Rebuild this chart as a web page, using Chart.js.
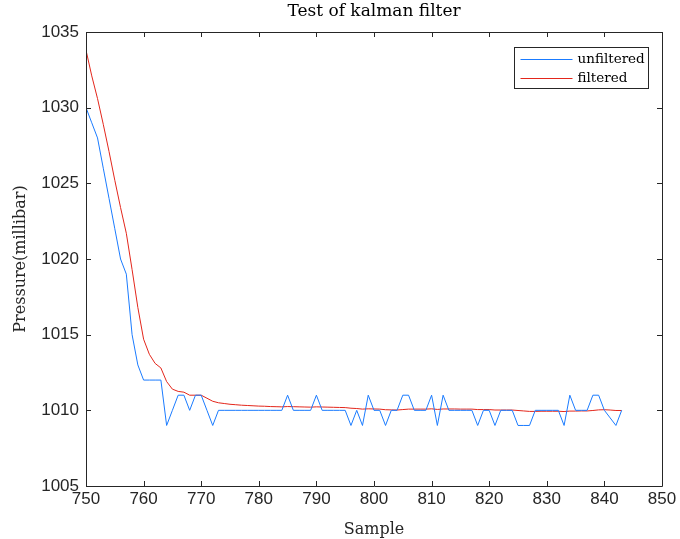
<!DOCTYPE html>
<html>
<head>
<meta charset="utf-8">
<title>Test of kalman filter</title>
<script src="https://cdn.jsdelivr.net/npm/chart.js@4/dist/chart.umd.min.js"></script>
<style>
  html, body { margin: 0; padding: 0; background: #fff; }
  #wrap { width: 680px; height: 539px; }
</style>
</head>
<body>
<div id="wrap"><canvas id="myChart" width="680" height="539"></canvas></div>
<script>
var samples = [
  750, 751, 752, 753, 754, 755, 756, 757, 758, 759,
  760, 761, 762, 763, 764, 765, 766, 767, 768, 769,
  770, 771, 772, 773, 774, 775, 776, 777, 778, 779,
  780, 781, 782, 783, 784, 785, 786, 787, 788, 789,
  790, 791, 792, 793, 794, 795, 796, 797, 798, 799,
  800, 801, 802, 803, 804, 805, 806, 807, 808, 809,
  810, 811, 812, 813, 814, 815, 816, 817, 818, 819,
  820, 821, 822, 823, 824, 825, 826, 827, 828, 829,
  830, 831, 832, 833, 834, 835, 836, 837, 838, 839,
  840, 841, 842, 843
];

// raw pressure readings
var unfiltered = [
  1030, 1029, 1028, 1026, 1024, 1022, 1020, 1019, 1015, 1013,
  1012, 1012, 1012, 1012, 1009, 1010, 1011, 1011, 1010, 1011,
  1011, 1010, 1009, 1010, 1010, 1010, 1010, 1010, 1010, 1010,
  1010, 1010, 1010, 1010, 1010, 1011, 1010, 1010, 1010, 1010,
  1011, 1010, 1010, 1010, 1010, 1010, 1009, 1010, 1009, 1011,
  1010, 1010, 1009, 1010, 1010, 1011, 1011, 1010, 1010, 1010,
  1011, 1009, 1011, 1010, 1010, 1010, 1010, 1010, 1009, 1010,
  1010, 1009, 1010, 1010, 1010, 1009, 1009, 1009, 1010, 1010,
  1010, 1010, 1010, 1009, 1011, 1010, 1010, 1010, 1011, 1011,
  1010, 1009.5, 1009, 1010
];

// kalman estimate
var filtered = [
  1033.8, 1032.1, 1030.6, 1028.9, 1027.1, 1025.2, 1023.4, 1021.7, 1019.3, 1016.8,
  1014.7, 1013.7, 1013.1, 1012.8, 1011.9, 1011.4, 1011.25, 1011.2, 1011.0, 1011.0,
  1011.0, 1010.8, 1010.6, 1010.5, 1010.45, 1010.4, 1010.37, 1010.34, 1010.32, 1010.3,
  1010.28, 1010.27, 1010.25, 1010.24, 1010.23, 1010.25, 1010.24, 1010.23, 1010.22, 1010.21,
  1010.23, 1010.22, 1010.21, 1010.2, 1010.19, 1010.18, 1010.14, 1010.12, 1010.08, 1010.1,
  1010.09, 1010.08, 1010.04, 1010.03, 1010.02, 1010.05, 1010.08, 1010.08, 1010.08, 1010.08,
  1010.1, 1010.06, 1010.09, 1010.09, 1010.09, 1010.08, 1010.08, 1010.08, 1010.05, 1010.05,
  1010.05, 1010.02, 1010.02, 1010.02, 1010.02, 1009.99, 1009.96, 1009.93, 1009.93, 1009.94,
  1009.94, 1009.94, 1009.94, 1009.92, 1009.95, 1009.95, 1009.96, 1009.96, 1009.99, 1010.03,
  1010.04, 1010.02, 1009.99, 1009.99
];

var xTicks = [750, 760, 770, 780, 790, 800, 810, 820, 830, 840, 850];
var yTicks = [1005, 1010, 1015, 1020, 1025, 1030, 1035];
var chartTitle = 'Test of kalman filter';

var axisColor = '#262626';
var serif = '"DejaVu Serif", "Liberation Serif", serif';
var sans = '"Liberation Sans", Arial, sans-serif';

function points(ys) {
  return samples.map(function (s, i) { return { x: s, y: ys[i] }; });
}

// title centred over the plot area rather than the whole canvas
var axesTitle = {
  id: 'axesTitle',
  afterDraw: function (chart) {
    var c = chart.ctx, a = chart.chartArea;
    c.save();
    c.font = '17px ' + serif;
    c.fillStyle = '#000';
    c.textAlign = 'center';
    c.textBaseline = 'middle';
    c.fillText(chartTitle, (a.left + a.right) / 2, a.top - 20);
    c.restore();
  }
};

// box around the axes with inward ticks on all four sides
var boxAxes = {
  id: 'boxAxes',
  afterDatasetsDraw: function (chart) {
    var c = chart.ctx, a = chart.chartArea;
    var xs = chart.scales.x, ys = chart.scales.y;
    var len = 5;
    c.save();
    c.strokeStyle = axisColor;
    c.lineWidth = 1;
    c.beginPath();
    c.rect(Math.round(a.left) + 0.5, Math.round(a.top) + 0.5,
           Math.round(a.right - a.left), Math.round(a.bottom - a.top));
    xTicks.forEach(function (t) {
      var px = Math.round(xs.getPixelForValue(t)) + 0.5;
      c.moveTo(px, a.bottom); c.lineTo(px, a.bottom - len);
      c.moveTo(px, a.top); c.lineTo(px, a.top + len);
    });
    yTicks.forEach(function (t) {
      var py = Math.round(ys.getPixelForValue(t)) + 0.5;
      c.moveTo(a.left, py); c.lineTo(a.left + len, py);
      c.moveTo(a.right, py); c.lineTo(a.right - len, py);
    });
    c.stroke();
    c.restore();
  }
};

// legend box in the upper right corner of the plot
var cornerLegend = {
  id: 'cornerLegend',
  afterDraw: function (chart) {
    var c = chart.ctx, a = chart.chartArea;
    var w = 134, h = 41;
    var x0 = Math.round(a.right - 14 - w) + 0.5, y0 = Math.round(a.top + 15) + 0.5;
    c.save();
    c.fillStyle = '#fff';
    c.fillRect(x0, y0, w, h);
    c.strokeStyle = axisColor;
    c.lineWidth = 1;
    c.strokeRect(x0, y0, w, h);
    c.font = '13.5px ' + serif;
    c.textBaseline = 'middle';
    chart.data.datasets.forEach(function (ds, i) {
      var ry = Math.round(y0 + 11 + i * 19) + 0.5;
      c.strokeStyle = ds.borderColor;
      c.beginPath();
      c.moveTo(x0 + 6, ry); c.lineTo(x0 + 58, ry);
      c.stroke();
      c.fillStyle = '#000';
      c.fillText(ds.label, x0 + 63, ry);
    });
    c.restore();
  }
};

var ctx = document.getElementById('myChart').getContext('2d');
var myChart = new Chart(ctx, {
  type: 'line',
  data: {
    datasets: [{
      label: 'unfiltered',
      data: points(unfiltered),
      borderColor: '#1a7bff',
      borderWidth: 1,
      pointRadius: 0,
      tension: 0
    }, {
      label: 'filtered',
      data: points(filtered),
      borderColor: '#e3261b',
      borderWidth: 1,
      pointRadius: 0,
      tension: 0
    }]
  },
  options: {
    responsive: false,
    animation: false,
    layout: { padding: { left: 0, right: 18, top: 32, bottom: 0 } },
    plugins: {
      legend: { display: false },
      tooltip: { enabled: false },
      title: { display: false }
    },
    scales: {
      x: {
        type: 'linear',
        min: 750,
        max: 850,
        afterBuildTicks: function (s) { s.ticks = xTicks.map(function (v) { return { value: v }; }); },
        afterFit: function (s) { s.height = 53; },
        grid: { display: false, drawTicks: false },
        border: { display: false },
        ticks: {
          color: axisColor, font: { family: sans, size: 17 }, padding: 3, maxRotation: 0,
          callback: function (v) { return String(v); }
        },
        title: {
          display: true,
          text: 'Sample',
          color: axisColor,
          font: { family: serif, size: 16 },
          padding: { top: 2, bottom: 0 }
        }
      },
      y: {
        min: 1005,
        max: 1035,
        afterBuildTicks: function (s) { s.ticks = yTicks.map(function (v) { return { value: v }; }); },
        afterFit: function (s) { s.width = 86; },
        grid: { display: false, drawTicks: false },
        border: { display: false },
        ticks: {
          color: axisColor, font: { family: sans, size: 17 }, padding: 7,
          callback: function (v) { return String(v); }
        },
        title: {
          display: true,
          text: 'Pressure(millibar)',
          color: axisColor,
          font: { family: serif, size: 16 },
          padding: { top: 11, bottom: 0 }
        }
      }
    }
  },
  plugins: [axesTitle, boxAxes, cornerLegend]
});
</script>
</body>
</html>
